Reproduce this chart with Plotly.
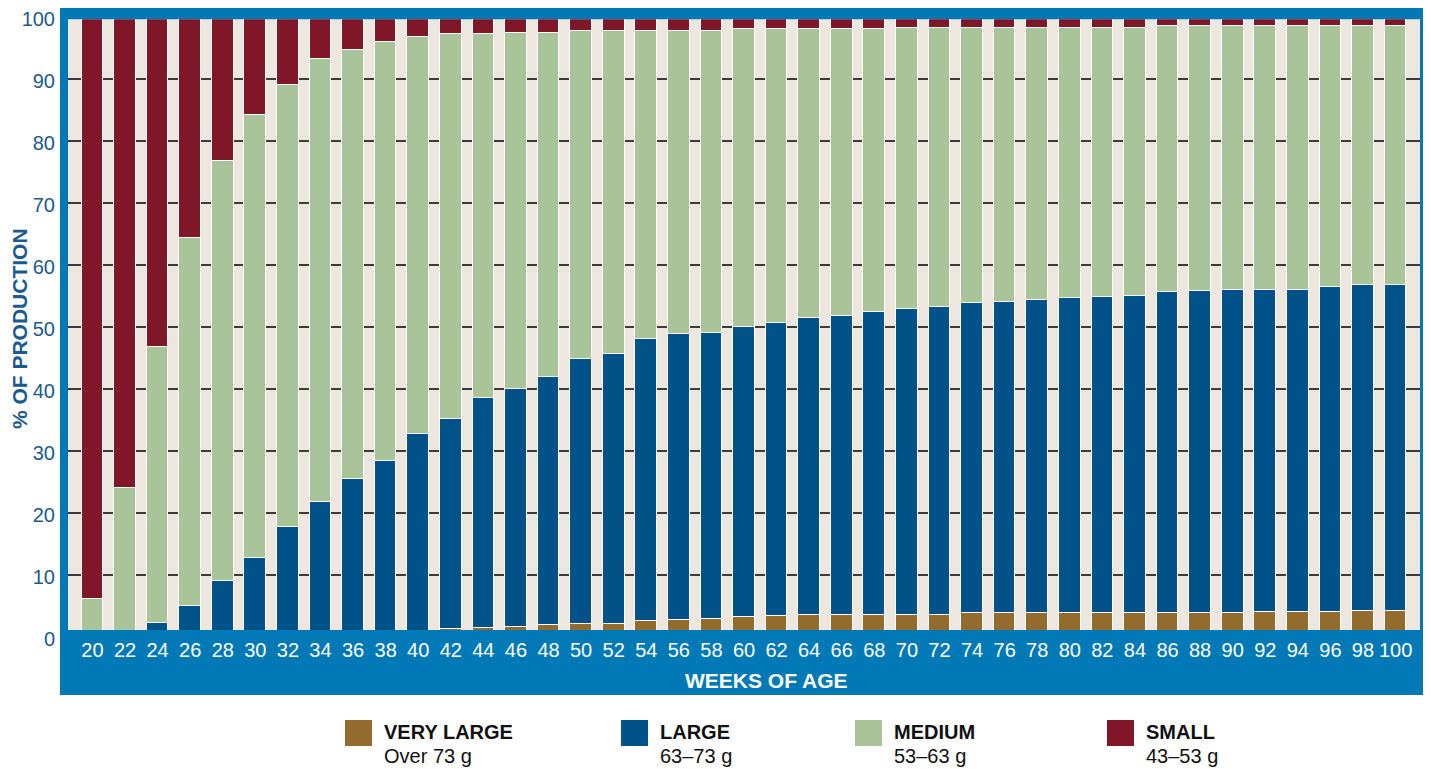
import plotly.graph_objects as go

weeks = list(range(20, 101, 2))

very_large = [0, 0, 0, 0, 0, 0.3, 0.3, 0.4, 0.4, 0.5, 0.8, 1.3, 1.5, 1.6, 2.0, 2.1, 2.1, 2.6, 2.7, 2.9,
              3.3, 3.4, 3.5, 3.5, 3.5, 3.5, 3.5, 3.8, 3.8, 3.8, 3.8, 3.8, 3.8, 3.9, 3.9, 3.9, 4.0, 4.0,
              4.1, 4.2, 4.2]
large = [0, 1.0, 2.2, 5.0, 9.0, 12.4, 17.4, 21.4, 25.1, 27.9, 31.9, 33.8, 37.0, 38.4, 40.0, 42.7, 43.6,
         45.4, 46.2, 46.1, 46.7, 47.2, 47.9, 48.2, 49.0, 49.4, 49.8, 50.0, 50.3, 50.6, 50.9, 51.0, 51.2,
         51.7, 51.9, 52.0, 52.0, 52.0, 52.4, 52.5, 52.6]
medium = [6.1, 23.0, 44.6, 59.3, 67.8, 71.5, 71.3, 71.4, 69.2, 67.5, 64.1, 62.1, 58.7, 57.5, 55.5, 53.0,
          52.1, 49.8, 48.9, 48.8, 48.0, 47.4, 46.6, 46.4, 45.6, 45.3, 44.9, 44.4, 44.1, 43.8, 43.6, 43.5,
          43.3, 42.9, 42.7, 42.6, 42.5, 42.5, 42.1, 41.9, 41.8]
small = [93.9, 76.0, 53.2, 35.7, 23.2, 15.8, 11.0, 6.8, 5.3, 4.1, 3.2, 2.8, 2.8, 2.5, 2.5, 2.2, 2.2, 2.2,
         2.2, 2.2, 2.0, 2.0, 2.0, 1.9, 1.9, 1.8, 1.8, 1.8, 1.8, 1.8, 1.7, 1.7, 1.7, 1.5, 1.5, 1.5, 1.5,
         1.5, 1.4, 1.4, 1.4]

series_names = ["VERY LARGE", "LARGE", "MEDIUM", "SMALL"]
series_ranges = ["Over 73 g", "63\u201373 g", "53\u201363 g", "43\u201353 g"]
series_values = [very_large, large, medium, small]
colors = ["#936B2C", "#02528A", "#A8C498", "#7F1729"]

y_ticks = list(range(0, 101, 10))

# figure keeps the window size; the page body adds an 8px offset, so
# window-pixel positions are converted with that offset removed
OFF = 8
W, H = 1431, 769
BLUE = "#0079B6"
BEIGE = "#EEE7DF"
LABEL_BLUE = "#1B5A8E"
NARROW = "Liberation Sans Narrow, Arial Narrow, Liberation Sans, sans-serif"
BOLD = "Liberation Sans, Arial, sans-serif"


def px(x):
    return (x - OFF) / W


def py(y):
    return 1 - (y - OFF) / H


fig = go.Figure()
for name, vals, col in zip(series_names, series_values, colors):
    fig.add_trace(go.Bar(
        x=weeks, y=vals, name=name, width=1.33,
        marker=dict(color=col, line=dict(color="white", width=1)),
        showlegend=False,
    ))

# helper trace so that the labelled percentage axis (y2) is drawn
fig.add_trace(go.Scatter(x=weeks, y=[None] * len(weeks), yaxis="y2", mode="lines",
                         hoverinfo="skip", showlegend=False))

# scale: value 0 at y=637.3 px, 6.2 px per unit
y0_px, ppu = 637.3, 6.2
plot_top, plot_bot = 19.3, 630
label_shift = 1.5  # tick labels sit slightly below their grid lines

shapes = [
    dict(type="rect", xref="paper", yref="paper", x0=px(60), x1=px(1428), y0=py(695), y1=py(8),
         fillcolor=BLUE, line=dict(width=0), layer="below"),
    dict(type="rect", xref="paper", yref="paper", x0=px(68), x1=px(1420), y0=py(plot_bot), y1=py(plot_top),
         fillcolor=BEIGE, line=dict(width=0), layer="below"),
]

annotations = [
    dict(text="<b>WEEKS OF AGE</b>", x=px(766), y=py(680), xref="paper", yref="paper",
         showarrow=False, xanchor="center", yanchor="middle",
         font=dict(family=BOLD, size=21, color="white")),
]

# custom legend
leg_sq_x = [345, 621, 855, 1107]
for i, (name, rng, col) in enumerate(zip(series_names, series_ranges, colors)):
    x0 = leg_sq_x[i]
    shapes.append(dict(type="rect", xref="paper", yref="paper", x0=px(x0), x1=px(x0 + 27),
                       y0=py(746), y1=py(720), fillcolor=col, line=dict(width=0)))
    annotations.append(dict(text="<b>" + name + "</b>", x=px(x0 + 37), y=py(732), xref="paper", yref="paper",
                            showarrow=False, xanchor="left", yanchor="middle",
                            font=dict(family=BOLD, size=20, color="#111111")))
    annotations.append(dict(text=rng, x=px(x0 + 37), y=py(756), xref="paper", yref="paper",
                            showarrow=False, xanchor="left", yanchor="middle",
                            font=dict(family=NARROW, size=20, color="#111111")))

fig.update_layout(
    width=W, height=H,
    autosize=False,
    margin=dict(l=0, r=0, t=0, b=0, pad=0, autoexpand=False),
    paper_bgcolor="white",
    plot_bgcolor="rgba(0,0,0,0)",
    barmode="stack",
    bargap=0,
    shapes=shapes,
    annotations=annotations,
    xaxis=dict(
        domain=[px(68), px(1420)], range=[18.5, 101.5], automargin=False,
        tickmode="array", tickvals=weeks, ticktext=[str(w) for w in weeks],
        tickfont=dict(family=NARROW, size=20, color="white"),
        showgrid=False, zeroline=False, showline=False, ticks="",
        ticklabelstandoff=6, ticklabeloverflow="allow", fixedrange=True,
    ),
    yaxis=dict(
        domain=[py(plot_bot), py(plot_top)], automargin=False,
        range=[(y0_px - plot_bot) / ppu, (y0_px - plot_top) / ppu],
        tickmode="array", tickvals=y_ticks[1:-1],
        showticklabels=False, showgrid=True, gridcolor="#3A3A3A", gridwidth=2,
        zeroline=False, showline=False, ticks="",
    ),
    yaxis2=dict(
        anchor="x", side="left", automargin=False,
        domain=[py(y0_px + label_shift), py(y0_px + label_shift - 100 * ppu)], range=[0, 100],
        tickmode="array", tickvals=y_ticks,
        tickfont=dict(family=NARROW, size=20, color=LABEL_BLUE),
        showgrid=False, zeroline=False, showline=False, ticks="",
        ticklabelstandoff=12, ticklabeloverflow="allow",
        title=dict(text="<b>% OF PRODUCTION</b>", standoff=12,
                   font=dict(family=BOLD, size=21, color=LABEL_BLUE)),
    ),
)

fig.write_html("out.html", config={"displayModeBar": False})
